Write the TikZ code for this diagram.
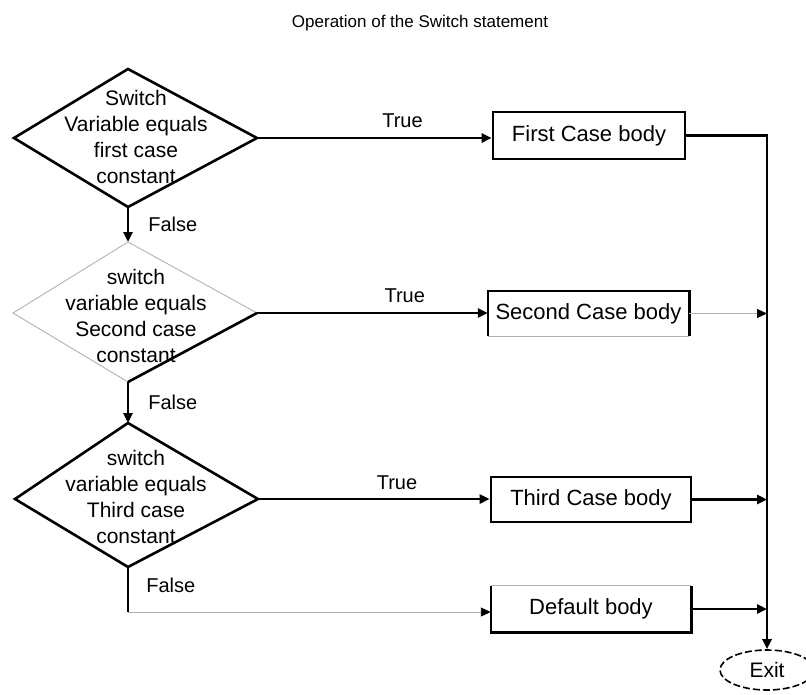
\documentclass[tikz,border=0pt]{standalone}
\usepackage{fontspec}
\setmainfont{Liberation Sans}
\usetikzlibrary{arrows.meta,shapes.geometric}
\begin{document}
\begin{tikzpicture}[x=1pt,y=-1pt,line join=miter,
  heavy/.style={line width=2.6pt, draw=black},
  faint/.style={line width=0.9pt, draw=black!30},
  tip/.style={-{Triangle[length=10pt,width=9pt,color=black]}},
  dtext/.style={align=center, inner sep=0pt, font=\fontsize{21}{26}\selectfont},
  body/.style={inner sep=0pt, font=\fontsize{22}{26}\selectfont},
  lbl/.style={inner sep=0pt, font=\fontsize{20}{24}\selectfont}]
\useasboundingbox (0,0) rectangle (806,694);

% title
\node[anchor=base, font=\fontsize{17}{20}\selectfont] (title) at (420,27)
  {Operation of the Switch statement};

% decision 1
\coordinate (d1t) at (128,69);
\coordinate (d1l) at (14,138);
\coordinate (d1r) at (257,138);
\coordinate (d1b) at (128,207);
\draw[heavy] (d1t) -- (d1r) -- (d1b) -- (d1l) -- cycle;
\node[dtext] (dt1) at (136,137) {Switch\\Variable equals\\first case\\constant};

% decision 2
\coordinate (d2t) at (128,242);
\coordinate (d2l) at (13,313);
\coordinate (d2r) at (257,313);
\coordinate (d2b) at (128,382);
\draw[faint] (d2r) -- (d2t) -- (d2l) -- (d2b);
\draw[heavy] (d2r) -- (d2b);
\node[dtext] (dt2) at (136,316) {switch\\variable equals\\Second case\\constant};

% decision 3
\coordinate (d3t) at (128,423);
\coordinate (d3l) at (15,499);
\coordinate (d3r) at (258,499);
\coordinate (d3b) at (128,567);
\draw[heavy] (d3t) -- (d3r) -- (d3b) -- (d3l) -- cycle;
\node[dtext] (dt3) at (136,497) {switch\\variable equals\\Third case\\constant};

% case bodies
\node[body, draw, line width=2.6pt, minimum width=192pt, minimum height=47pt]
  (b1) at (589,135.5) {First Case body};
\node[body, minimum width=201pt, minimum height=45pt] (b2) at (588.5,313.5) {Second Case body};
\draw[heavy] (b2.south west) -- (b2.north west) -- (b2.north east) -- (b2.south east);
\draw[faint] (b2.south west) -- (b2.south east);
\node[body, draw, line width=2.6pt, minimum width=200pt, minimum height=45pt]
  (b3) at (591,499.5) {Third Case body};
\node[body, minimum width=200pt, minimum height=46pt] (b4) at (591,609) {Default body};
\draw[heavy] (b4.north west) -- (b4.south west) -- (b4.south east) -- (b4.north east);
\draw[faint] (b4.north west) -- (b4.north east);

% exit
\node[ellipse, draw, line width=1.6pt, dash pattern=on 7pt off 3pt,
  minimum width=94pt, minimum height=40pt, inner sep=0pt,
  font=\fontsize{21}{24}\selectfont] (ex) at (767,670) {Exit};

% true branches
\draw[heavy, tip] (d1r) -- node[lbl, pos=0.62, above=9pt] {True} (d1r -| b1.west);
\draw[heavy, tip] (d2r) -- node[lbl, pos=0.64, above=9pt] {True} (d2r -| b2.west);
\draw[heavy, tip] (d3r) -- node[lbl, pos=0.60, above=8pt] {True} (d3r -| b3.west);

% false branches
\draw[heavy, tip] (d1b) -- node[lbl, right=19pt] {False} (d2t);
\draw[heavy, tip] (d2b) -- node[lbl, right=19pt] {False} (d3t);
\coordinate (fk) at (128,612);
\draw[heavy] (d3b) -- node[lbl, pos=0.4, right=17pt] {False} (fk);
\draw[faint, tip] (fk) -- (fk -| b4.west);

% collector line to exit
\draw[heavy, tip] (b1.east) -- (b1.east -| ex.north) -- (ex.north);
\draw[faint, tip] (b2.east) -- (b2.east -| ex.north);
\draw[heavy, tip] (b3.east) -- (b3.east -| ex.north);
\draw[heavy, tip] (b4.east) -- (b4.east -| ex.north);
\end{tikzpicture}
\end{document}
